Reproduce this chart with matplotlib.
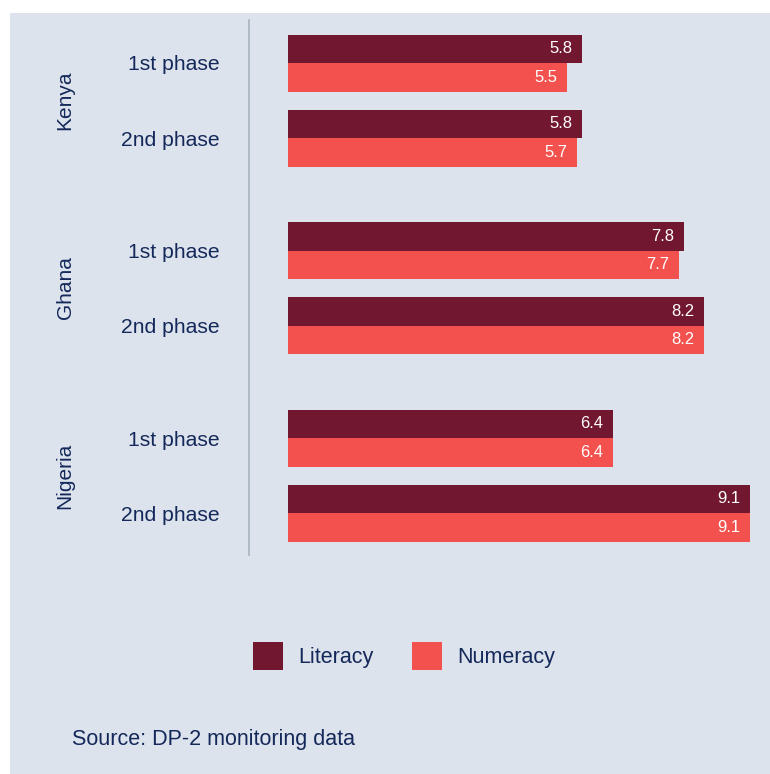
import numpy as np
import matplotlib
matplotlib.use("Agg")
import matplotlib.pyplot as plt
from matplotlib.patches import Patch, Rectangle
from matplotlib.transforms import blended_transform_factory

plt.rcParams['font.family'] = ['Liberation Sans', 'DejaVu Sans']

countries = ["Kenya", "Ghana", "Nigeria"]
phases = ["1st phase", "2nd phase"]
literacy = [5.8, 5.8, 7.8, 8.2, 6.4, 9.1]
numeracy = [5.5, 5.7, 7.7, 8.2, 6.4, 9.1]
series_names = ["Literacy", "Numeracy"]

LIT_COLOR = "#721730"
NUM_COLOR = "#f2514d"
PANEL = "#dce3ec"
TEXT = "#14285a"

W, H = 770, 774
fig = plt.figure(figsize=(W / 100, H / 100), dpi=100, facecolor="white")
fig.patches.append(Rectangle((10 / W, 0), 1 - 10 / W, 1 - 13 / H,
                             transform=fig.transFigure, facecolor=PANEL,
                             edgecolor="none", zorder=-10))

# axes box in pixel terms: left spine at x=249, plot from y=20 to y=555
ax = fig.add_axes([249 / W, 1 - 555 / H, (760 - 249) / W, (555 - 20) / H])
ax.set_facecolor("none")

# group positions: phases 1 apart, countries separated by an extra half step
y = np.array([0, 1, 2.5, 3.5, 5, 6], dtype=float)
bh = 0.38
lit_bars = ax.barh(y - bh / 2, literacy, height=bh, color=LIT_COLOR)
num_bars = ax.barh(y + bh / 2, numeracy, height=bh, color=NUM_COLOR)

for bars, vals in [(lit_bars, literacy), (num_bars, numeracy)]:
    for b, v in zip(bars, vals):
        ax.annotate(f"{v:.1f}", (v, b.get_y() + b.get_height() / 2),
                    xytext=(-7, 0), textcoords="offset points",
                    ha="right", va="center", color="white", fontsize=12)

ax.set_xlim(-(288 - 249) / 50.77, (760 - 288) / 50.77)
ax.set_ylim((555 - 63) / 75, -(63 - 20) / 75)
ax.set_xticks([])
ax.set_yticks(y)
ax.set_yticklabels(phases * len(countries))
ax.tick_params(axis="y", length=0, pad=21.5, labelsize=15.2, labelcolor=TEXT)
for s in ["top", "right", "bottom"]:
    ax.spines[s].set_visible(False)
ax.spines["left"].set_color("#a9b4bf")
ax.spines["left"].set_linewidth(1.2)

trans = blended_transform_factory(fig.transFigure, ax.transData)
for i, c in enumerate(countries):
    ax.text(65 / W, y[2 * i:2 * i + 2].mean(), c, transform=trans,
            rotation=90, ha="center", va="center", fontsize=15, color=TEXT)

handles = [Patch(facecolor=LIT_COLOR), Patch(facecolor=NUM_COLOR)]
fig.legend(handles, series_names, loc="center", bbox_to_anchor=(404 / W, 1 - 656 / H),
           ncol=2, frameon=False, fontsize=15.5, labelcolor=TEXT,
           handlelength=1.39, handleheight=1.6, handletextpad=0.7,
           columnspacing=1.8)

fig.text(72 / W, 1 - 740 / H, "Source: DP-2 monitoring data",
         ha="left", va="center", fontsize=15.5, color=TEXT)

fig.savefig("out.png", dpi=100, facecolor=fig.get_facecolor())
